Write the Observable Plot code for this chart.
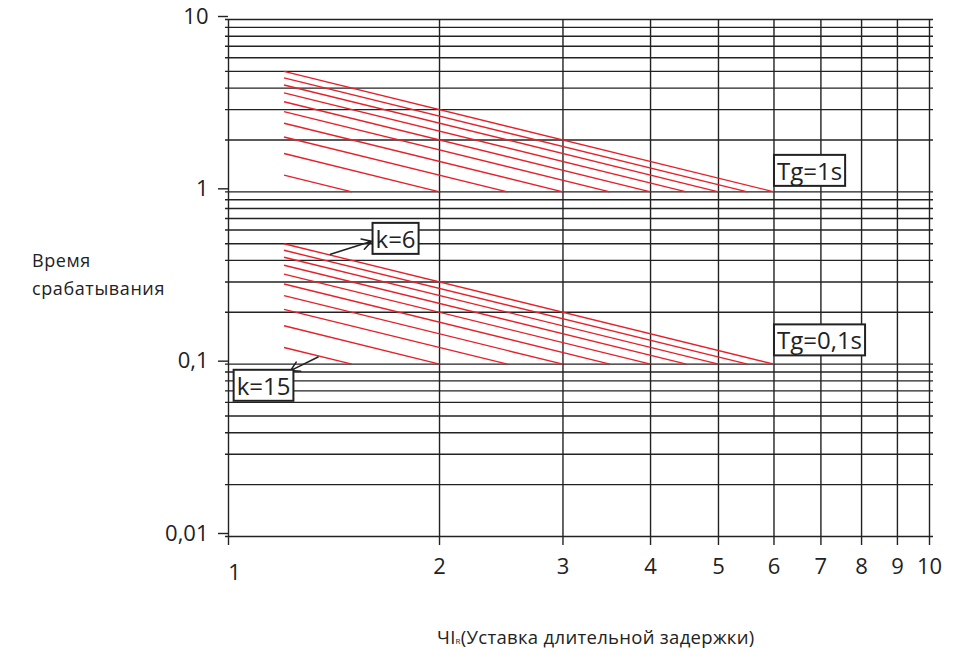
<!DOCTYPE html>
<html><head><meta charset="utf-8">
<script src="https://cdn.jsdelivr.net/npm/d3@7"></script>
<script src="https://cdn.jsdelivr.net/npm/@observablehq/plot@0.6"></script>
<style>
body{margin:0;background:#fff;}
#chart svg{display:block;}
</style></head><body><div id="chart"></div>
<script>
// ---- data ----
const startCurrent = 1.2;
const endCurrents = [1.5, 2, 2.5, 3, 3.5, 4, 4.5, 5, 5.5, 6];
const upperStartTimes = [1.25, 1.67, 2.08, 2.5, 2.92, 3.33, 3.75, 4.17, 4.58, 5.0];
const upperEndTime = 1;
const lowerStartTimes = [0.125, 0.167, 0.208, 0.25, 0.292, 0.333, 0.375, 0.417, 0.458, 0.5];
const lowerEndTime = 0.1;

const xTicks = [1, 2, 3, 4, 5, 6, 7, 8, 9, 10];
const xTickLabels = ["1", "2", "3", "4", "5", "6", "7", "8", "9", "10"];
const yGrid = [0.01, 0.02, 0.03, 0.04, 0.05, 0.06, 0.07, 0.08, 0.09,
               0.1, 0.2, 0.3, 0.4, 0.5, 0.6, 0.7, 0.8, 0.9,
               1, 2, 3, 4, 5, 6, 7, 8, 9, 10];
const yMajorTicks = [10, 1, 0.1, 0.01];
const yMajorLabels = ["10", "1", "0,1", "0,01"];

const boxLabels = ["Tg=1s", "Tg=0,1s", "k=6", "k=15"];
const boxX = [6, 6, 1.605, 1.017];
const boxY = [1.30, 0.135, 0.524, 0.0736];

const arrowFromX = [1.398, 1.342];
const arrowFromY = [0.434, 0.11];
const arrowToX = [1.60, 1.226];
const arrowToY = [0.516, 0.0917];

const yTitle = ["Время", "срабатывания"];
const xTitleMain = "ЧI";
const xTitleSub = "R";
const xTitleRest = "(Уставка длительной задержки)";

// ---- build tables ----
const segments = [
  ...endCurrents.map((e, i) => ({x1: startCurrent, y1: upperStartTimes[i], x2: e, y2: upperEndTime})),
  ...endCurrents.map((e, i) => ({x1: startCurrent, y1: lowerStartTimes[i], x2: e, y2: lowerEndTime}))
];
const labels = boxLabels.map((t, i) => ({text: t, x: boxX[i], y: boxY[i]}));
const arrows = arrowFromX.map((x, i) => ({x1: x, y1: arrowFromY[i], x2: arrowToX[i], y2: arrowToY[i]}));
const yLabelOf = new Map(yMajorTicks.map((v, i) => [v, yMajorLabels[i]]));
const xLabelTable = xTicks.map((v, i) => ({x: v, label: xTickLabels[i]}));

const ink = "#222";
const red = "#e8202a";

const chart = Plot.plot({
  width: 966, height: 650,
  marginLeft: 228, marginRight: 37, marginTop: 19, marginBottom: 114,
  x: {type: "log", domain: [1, 10], axis: null},
  y: {type: "log", domain: [0.01, 10]},
  style: {fontFamily: "'Open Sans', sans-serif", background: "white", color: ink},
  marks: [
    Plot.ruleY(yGrid, {y: d => d, stroke: ink, strokeWidth: 1.4, strokeOpacity: 1, insetLeft: -3, insetRight: -4}),
    Plot.ruleX(xTicks, {x: d => d, stroke: ink, strokeWidth: 1.4, strokeOpacity: 1, insetBottom: -9}),
    Plot.text(xLabelTable.filter(d => d.x !== 1), {x: "x", text: "label", frameAnchor: "bottom", lineAnchor: "top",
      dy: 22, fontSize: 22, fill: ink}),
    Plot.text(xLabelTable.filter(d => d.x === 1), {x: "x", text: "label", frameAnchor: "bottom", lineAnchor: "top",
      dy: 28, dx: 6, fontSize: 22, fill: ink}),
    Plot.axisY(yMajorTicks, {tickSize: 10, tickPadding: 10, fontSize: 22, stroke: ink, strokeWidth: 1.4,
      tickFormat: d => yLabelOf.get(d), label: null, dy: -3}),
    Plot.link(segments, {x1: "x1", y1: "y1", x2: "x2", y2: "y2", stroke: red, strokeWidth: 1.4}),
    Plot.arrow(arrows, {x1: "x1", y1: "y1", x2: "x2", y2: "y2", stroke: ink, strokeWidth: 1.6, headLength: 10}),
    Plot.text(labels, {x: "x", y: "y", text: "text", textAnchor: "start", dx: 3, fontSize: 24, fill: ink, className: "boxlabel"})
  ]
});

document.getElementById("chart").appendChild(chart);

// boxes around annotation labels
const svg = d3.select(chart);
svg.selectAll("g.boxlabel text").each(function() {
  const b = this.getBBox();
  d3.select(this.parentNode).insert("rect", () => this)
    .attr("transform", this.getAttribute("transform"))
    .attr("x", b.x - 3).attr("y", b.y + 1)
    .attr("width", b.width + 6).attr("height", b.height - 2)
    .attr("fill", "white").attr("stroke", ink).attr("stroke-width", 2);
});

// axis titles
const yt = svg.append("text").attr("font-size", 18).attr("fill", ink).attr("letter-spacing", 0.6)
  .attr("text-anchor", "start").attr("font-family", "'Open Sans', sans-serif");
yt.append("tspan").attr("x", 32).attr("y", 267).text(yTitle[0]);
yt.append("tspan").attr("x", 32).attr("y", 295).text(yTitle[1]);

const xt = svg.append("text").attr("x", 437).attr("y", 644).attr("font-size", 18.5).attr("fill", ink)
  .attr("letter-spacing", 0.3).attr("text-anchor", "start").attr("font-family", "'Open Sans', sans-serif");
xt.append("tspan").text(xTitleMain);
xt.append("tspan").attr("font-size", 8).text(xTitleSub);
xt.append("tspan").text(xTitleRest);
</script></body></html>
